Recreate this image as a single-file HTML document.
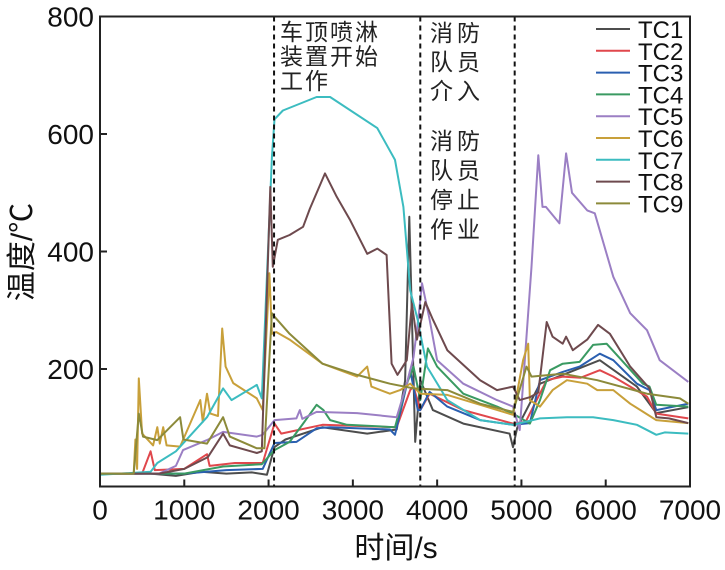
<!DOCTYPE html>
<html><head><meta charset="utf-8"><style>
body{margin:0;background:#fff;}
svg{display:block;font-family:"Liberation Sans","Noto Sans CJK SC",sans-serif;}
</style></head><body>
<svg id="chart" width="725" height="570"></svg>
<script>
const xTicks=[0,1000,2000,3000,4000,5000,6000,7000];
const yTicks=[200,400,600,800];
const yTickLabels=["200","400","600","800"];
const eventTimes=[2065,3800,4920];
const seriesNames=["TC1","TC2","TC3","TC4","TC5","TC6","TC7","TC8","TC9"];
const seriesColors=["#4d4d4d","#e0474c","#2a5fb0","#3a9a62","#9b7fc4","#c8a03a","#3cbcc0","#6e4a4e","#8c8a3a"];
const tc1=[[0,22],[600,22],[900,18],[1200,25],[1500,22],[1800,24],[1980,20],[2070,67],[2200,80],[2640,101],[3170,90],[3520,97],[3620,180],[3670,459],[3740,76],[3800,181],[3950,130],[4310,107],[4860,90],[4900,67],[4950,100],[5220,175],[5490,190],[5930,215],[6370,170],[6600,125],[6980,135]];
const tc2=[[0,22],[500,22],[600,60],[650,28],[1000,30],[1270,55],[1300,35],[1600,40],[1930,40],[2070,107],[2150,90],[2640,105],[3520,101],[3680,164],[3720,170],[3800,130],[3910,158],[4310,130],[4900,107],[5050,110],[5300,181],[5490,187],[5700,185],[5930,198],[6090,187],[6490,153],[6600,124],[6980,116]];
const tc3=[[0,22],[1000,22],[1500,28],[1930,30],[2070,74],[2330,76],[2570,99],[2730,101],[3440,97],[3500,88],[3680,198],[3770,130],[3800,130],[3910,161],[4120,136],[4510,113],[4900,105],[5100,108],[5220,181],[5490,195],[5690,204],[5930,226],[6090,215],[6370,175],[6520,164],[6600,130],[6980,141]];
const tc4=[[0,22],[1000,22],[1460,34],[1920,38],[2070,62],[2250,76],[2410,107],[2570,139],[2650,130],[2730,113],[2930,105],[3500,101],[3640,175],[3720,204],[3800,147],[3890,235],[4000,204],[4310,158],[4710,136],[4900,124],[5100,107],[5220,147],[5340,198],[5490,209],[5690,212],[5850,241],[6010,243],[6170,218],[6440,175],[6520,170],[6600,139],[6980,136]];
const tc5=[[0,22],[700,22],[900,35],[985,62],[1270,79],[1460,93],[1860,85],[1930,88],[2070,113],[2330,116],[2370,130],[2400,115],[2570,127],[3050,125],[3520,118],[3640,175],[3720,220],[3780,290],[3820,346],[3910,284],[4000,215],[4310,175],[4710,147],[4900,136],[4980,96],[5040,215],[5120,374],[5200,564],[5250,476],[5290,476],[5450,448],[5530,567],[5600,500],[5780,470],[5870,465],[6090,357],[6290,295],[6490,266],[6640,215],[6980,178]];
const tc6=[[0,22],[400,22],[420,80],[440,30],[460,184],[500,90],[630,70],[680,101],[710,73],[750,101],[790,70],[950,68],[1190,147],[1220,110],[1270,158],[1310,124],[1400,120],[1450,269],[1490,204],[1580,176],[1860,150],[1930,130],[2010,363],[2040,260],[2090,263],[2250,250],[2640,209],[3050,187],[3170,204],[3220,170],[3440,158],[3560,164],[3680,175],[3800,158],[4120,156],[4510,139],[4900,122],[5020,215],[5080,243],[5100,147],[5220,136],[5370,164],[5540,181],[5780,175],[5900,164],[6090,164],[6290,141],[6600,113],[6980,108]];
const tc7=[[0,20],[600,25],[680,40],[900,60],[1270,118],[1460,167],[1560,147],[1860,173],[1920,150],[2040,560],[2070,625],[2170,640],[2570,663],[2730,663],[3290,610],[3500,556],[3600,476],[3680,334],[3770,283],[3800,260],[3880,204],[4120,147],[4510,113],[4900,105],[5220,116],[5540,118],[5850,118],[6090,113],[6370,105],[6600,88],[6700,92],[6980,90]];
const tc8=[[0,22],[700,22],[1000,30],[1280,50],[1460,90],[1540,70],[1860,57],[1920,60],[2020,510],[2050,374],[2110,420],[2250,428],[2410,442],[2490,473],[2670,533],[2810,493],[2970,453],[3170,396],[3290,405],[3400,394],[3460,209],[3530,190],[3640,215],[3700,311],[3760,250],[3860,314],[3950,284],[4120,232],[4510,181],[4710,164],[4900,170],[4980,147],[5100,152],[5200,160],[5300,280],[5370,255],[5490,243],[5530,255],[5610,232],[5780,250],[5910,275],[6050,260],[6290,204],[6520,167],[6600,118],[6750,116],[6980,108]];
const tc9=[[0,22],[400,22],[460,124],[510,85],[680,79],[950,118],[990,80],[1270,73],[1460,118],[1540,85],[1860,65],[1950,65],[2040,295],[2070,289],[2250,260],[2640,209],[3050,190],[3440,175],[3720,167],[4120,164],[4510,141],[4900,127],[5060,204],[5120,187],[5490,192],[5900,181],[6490,158],[6880,150],[6980,141]];
const seriesData=[tc1,tc2,tc3,tc4,tc5,tc6,tc7,tc8,tc9];

const NS="http://www.w3.org/2000/svg";
const svg=document.getElementById('chart');
const L=100,R=690,T=16.5,B=486.5;
const xs=t=>L+t/7000*(R-L);
const ys=v=>B-v/800*(B-T);
function mk(tag,attrs,parent){const e=document.createElementNS(NS,tag);for(const k in attrs)e.setAttribute(k,attrs[k]);(parent||svg).appendChild(e);return e;}

seriesData.forEach((d,i)=>{
  const p=mk('polyline',{points:d.map(q=>xs(q[0]).toFixed(1)+','+ys(q[1]).toFixed(1)).join(' '),fill:'none',stroke:seriesColors[i],'stroke-width':2,'stroke-linejoin':'round'});
  
  
});
eventTimes.forEach((t,i)=>{
  const l=mk('line',{x1:xs(t),x2:xs(t),y1:T,y2:B,stroke:'#111','stroke-width':2,'stroke-dasharray':'5,4'});
  
  
});
const fr=mk('rect',{x:L,y:T,width:R-L,height:B-T,fill:'none',stroke:'#222','stroke-width':2});


xTicks.forEach(t=>{
  const tk=mk('line',{x1:xs(t),x2:xs(t),y1:B,y2:B-7,stroke:'#222','stroke-width':2});
  
  
  const tx=mk('text',{x:xs(t),y:B+33,'font-size':28,'text-anchor':'middle',fill:'#111'});
  tx.textContent=String(t);
  
  
});
yTicks.forEach((v,i)=>{
  const tk=mk('line',{x1:L,x2:L+7,y1:ys(v),y2:ys(v),stroke:'#222','stroke-width':2});
  
  
  const tx=mk('text',{x:L-6,y:ys(v)+10,'font-size':28,'text-anchor':'end',fill:'#111'});
  tx.textContent=yTickLabels[i];
  
  
});
seriesNames.forEach((n,i)=>{
  const y=29+i*21.8;
  const l=mk('line',{x1:596,x2:630,y1:y,y2:y,stroke:seriesColors[i],'stroke-width':2});
  
  
  const t=mk('text',{x:638,y:y+9,'font-size':24,fill:'#111'});
  t.textContent=n;
  
  
});
function ann(lines,x,y0,dy,name,ls){
  lines.forEach((s,i)=>{
    const t=mk('text',{x:x,y:y0+i*dy,'font-size':23,fill:'#222','letter-spacing':ls});
    t.textContent=s;
    
    
  });
}
ann(["车顶喷淋","装置开始","工作"],280,40,24.5,'annotation-sprinkler-start',2);
ann(["消防","队员","介入"],430,41,29,'annotation-firefighters-enter',4);
ann(["消防","队员","停止","作业"],430,149,29.5,'annotation-firefighters-stop',4);
const xt=mk('text',{x:396,y:558,'font-size':30,'text-anchor':'middle',fill:'#111'});
xt.textContent='时间/s';


const yt=mk('text',{x:0,y:0,'font-size':30,'text-anchor':'middle',fill:'#111',transform:'translate(32,252) rotate(-90)'});
yt.textContent='温度/℃';


</script>
</body></html>
